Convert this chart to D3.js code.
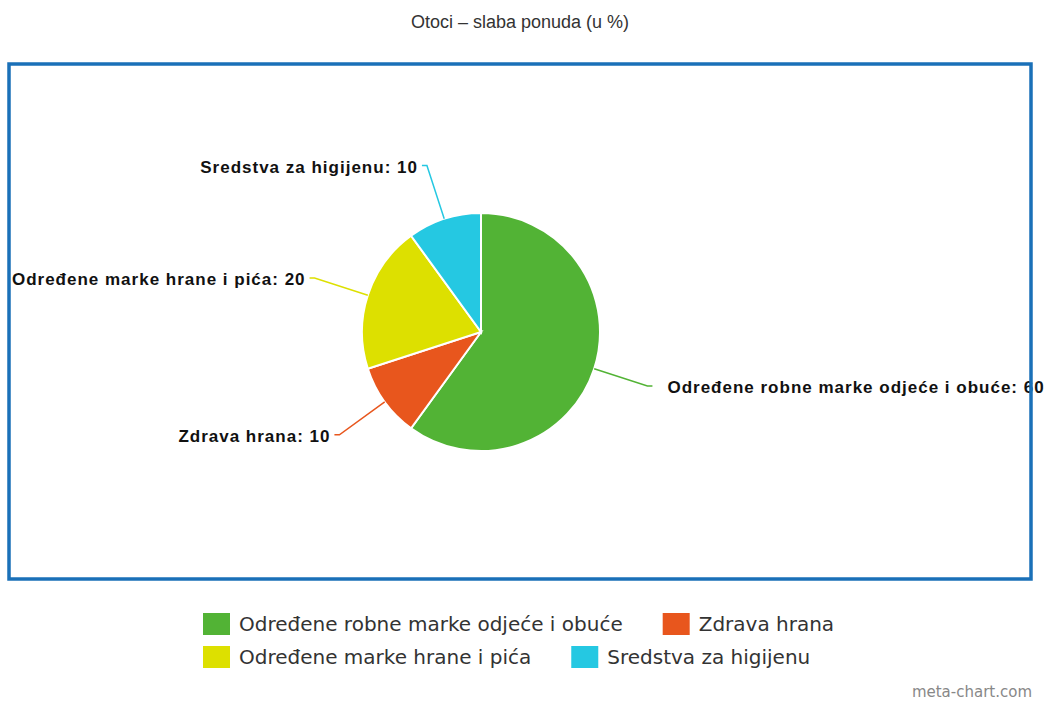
<!DOCTYPE html>
<html>
<head>
<meta charset="utf-8">
<script src="https://cdn.jsdelivr.net/npm/d3@7"></script>
<style>
  body { margin: 0; background: #fff; }
  svg { display: block; }
</style>
</head>
<body>
<div id="chart"></div>
<script>
// chart data
var title = "Otoci – slaba ponuda (u %)";
var categories = ["Određene robne marke odjeće i obuće", "Zdrava hrana", "Određene marke hrane i pića", "Sredstva za higijenu"];
var values = [60, 10, 20, 10];
var colors = ["#52b335", "#e8561d", "#dde000", "#25c8e2"];

var svgWidth = 1054;
var svgHeight = 702;

var svg = d3.select("#chart")
  .append("svg")
  .attr("width", svgWidth)
  .attr("height", svgHeight);

// title
svg.append("text")
  .attr("x", 520)
  .attr("y", 28)
  .attr("text-anchor", "middle")
  .attr("font-family", "Liberation Sans, Arial, sans-serif")
  .attr("font-size", 18)
  .attr("fill", "#333")
  .text(title);

// pie
var radius = 119;
var cx = 481, cy = 332;
var pieGroup = svg.append("g")
  .attr("transform", `translate(${cx}, ${cy})`);

var pie = d3.pie().sort(null).value(d => d);
var arcs = pie(values);
var arc = d3.arc().innerRadius(0).outerRadius(radius);

pieGroup.selectAll("path.slice")
  .data(arcs)
  .enter()
  .append("path")
  .attr("class", "slice")
  .attr("d", arc)
  .attr("fill", (d, i) => colors[i])
  .attr("stroke", "#fff")
  .attr("stroke-width", 2);

// label connectors
function polar(a, r) {
  return [r * Math.sin(a), -r * Math.cos(a)];
}
var labelDist = 56;

arcs.forEach(function(d, i) {
  var a = (d.startAngle + d.endAngle) / 2;
  var p0 = polar(a, radius);
  var c = polar(a, radius + 40);
  var p1 = polar(a, radius + labelDist);
  var left = Math.sin(a) < 0;
  var endX = p1[0] + (left ? -5 : 5);
  var endY = p1[1];

  pieGroup.append("path")
    .attr("d", `M${p0[0]},${p0[1]} Q${c[0]},${c[1]} ${p1[0]},${p1[1]} L${endX},${endY}`)
    .attr("fill", "none")
    .attr("stroke", colors[i])
    .attr("stroke-width", 1.5);

  pieGroup.append("text")
    .attr("x", left ? endX - 4 : endX + 15)
    .attr("y", endY + 7)
    .attr("text-anchor", left ? "end" : "start")
    .attr("font-family", "Liberation Sans, Arial, sans-serif")
    .attr("font-weight", "bold")
    .attr("font-size", 17)
    .attr("letter-spacing", "1px")
    .attr("fill", "#111")
    .text(categories[i] + ": " + values[i]);
});

// frame around plot area
svg.append("rect")
  .attr("x", 9)
  .attr("y", 64)
  .attr("width", 1022)
  .attr("height", 515)
  .attr("fill", "none")
  .attr("stroke", "#1a70b8")
  .attr("stroke-width", 3.5);

// legend, flowing rows of two
var legendFont = 20;
var legendX = 203;
var rowY = [624, 657];
var itemGap = 40;
var legend = svg.append("g");

categories.forEach(function(name, i) {
  var row = Math.floor(i / 2);
  legend.append("g").attr("class", "litem row" + row).datum(i);
});

var rowX = [legendX, legendX];
legend.selectAll("g.litem").each(function(i) {
  var row = Math.floor(i / 2);
  var g = d3.select(this);
  var x = rowX[row];
  g.append("rect")
    .attr("x", x)
    .attr("y", rowY[row] - 11)
    .attr("width", 27)
    .attr("height", 22)
    .attr("fill", colors[i]);
  var t = g.append("text")
    .attr("x", x + 36)
    .attr("y", rowY[row] + 7)
    .attr("font-family", "DejaVu Sans, sans-serif")
    .attr("font-size", legendFont)
    .attr("fill", "#333")
    .text(categories[i]);
  rowX[row] = x + 36 + t.node().getComputedTextLength() + itemGap;
});

// watermark
svg.append("text")
  .attr("x", 1032)
  .attr("y", 697)
  .attr("text-anchor", "end")
  .attr("font-family", "DejaVu Sans, sans-serif")
  .attr("font-size", 15)
  .attr("fill", "#888")
  .text("meta-chart.com");
</script>
</body>
</html>
